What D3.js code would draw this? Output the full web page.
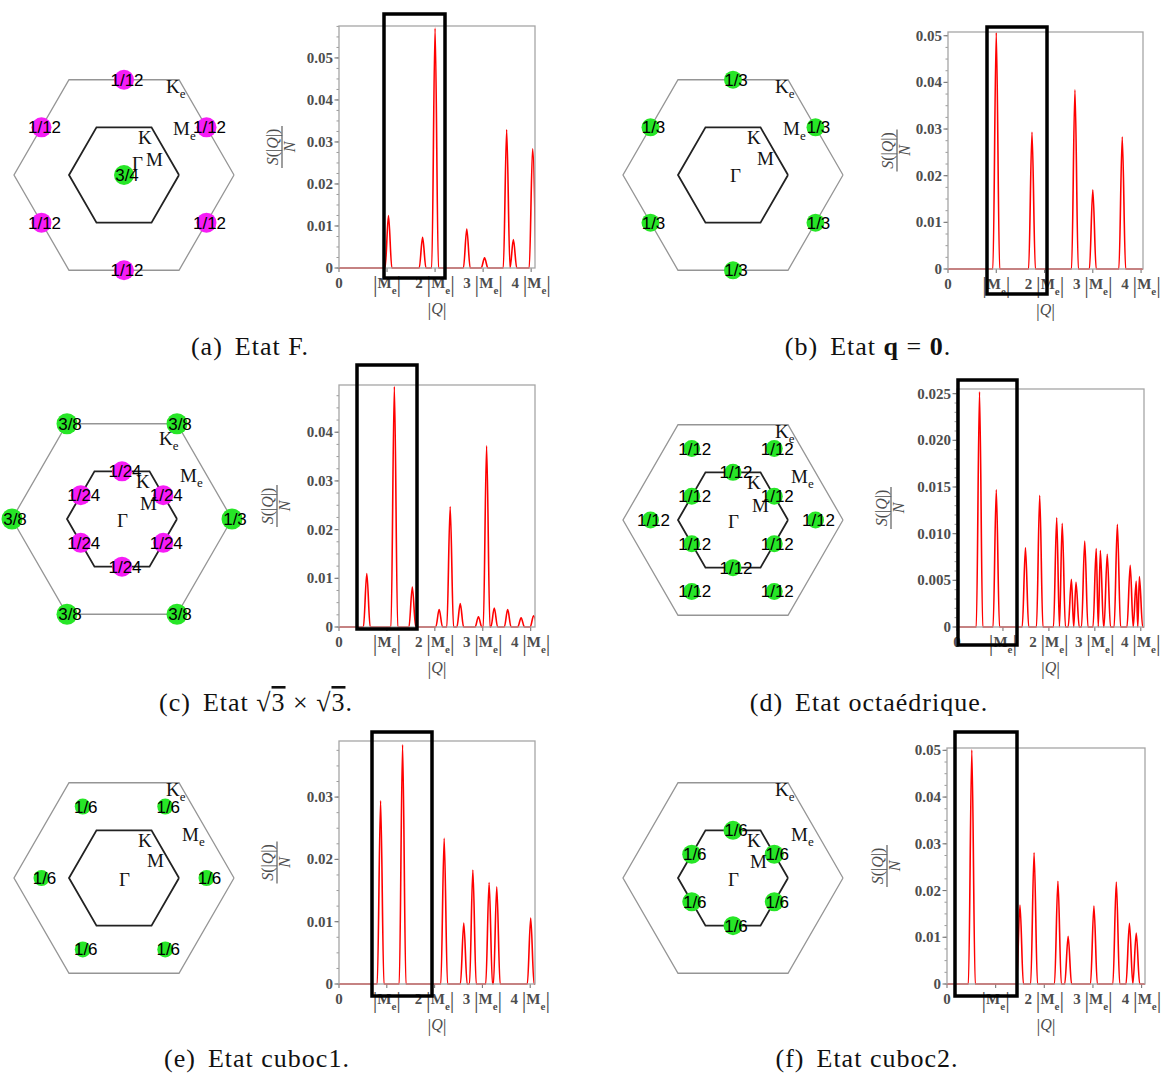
<!DOCTYPE html>
<html><head><meta charset="utf-8">
<script src="https://cdn.jsdelivr.net/npm/d3@7"></script>
<style>body{margin:0;background:#fff}svg{display:block}</style>
</head><body>
<svg id="fig" width="1161" height="1077"></svg>
<script>
// ---------------- DATA ----------------
// x tick values in units of |M_e|, and their labels
const xTickValues = [0, 1, 2, 3, 4];
const xTickLabels = ["0", "|Me|", "2|Me|", "3|Me|", "4|Me|"];

// y ticks of each plot
const yTicksF      = [0, 0.01, 0.02, 0.03, 0.04, 0.05];
const yTicksQ0     = [0, 0.01, 0.02, 0.03, 0.04, 0.05];
const yTicksR3     = [0, 0.01, 0.02, 0.03, 0.04];
const yTicksOcta   = [0, 0.005, 0.010, 0.015, 0.020, 0.025];
const yTicksCuboc1 = [0, 0.01, 0.02, 0.03];
const yTicksCuboc2 = [0, 0.01, 0.02, 0.03, 0.04, 0.05];
const yLabelsOcta  = ["0", "0.005", "0.010", "0.015", "0.020", "0.025"];

// peaks of S(|Q|)/N : [ |Q| in units of |Me| , height ]
const peaksF      = [[1.03,0.0125],[1.74,0.0073],[2.00,0.0571],[2.66,0.0093],[3.03,0.0024],[3.49,0.0329],[3.63,0.0068],[4.03,0.0284]];
const peaksQ0     = [[1.00,0.0507],[1.74,0.0293],[2.63,0.0384],[3.00,0.0170],[3.61,0.0283]];
const peaksR3     = [[0.58,0.0110],[1.155,0.0494],[1.53,0.0082],[2.09,0.0036],[2.32,0.0247],[2.53,0.0048],[2.91,0.0021],[3.08,0.0372],[3.24,0.0039],[3.52,0.0036],[3.80,0.0019],[4.06,0.0023]];
const peaksOcta   = [[0.49,0.0252],[0.855,0.0147],[1.49,0.0085],[1.80,0.0141],[2.17,0.0117],[2.29,0.0111],[2.49,0.0051],[2.59,0.0048],[2.78,0.0092],[3.03,0.0084],[3.12,0.0082],[3.27,0.0078],[3.49,0.0110],[3.77,0.0066],[3.90,0.0049],[3.97,0.0054]];
const peaksCuboc1 = [[0.87,0.0294],[1.33,0.0384],[2.20,0.0234],[2.61,0.0098],[2.80,0.0183],[3.14,0.0163],[3.30,0.0156],[4.01,0.0106]];
const peaksCuboc2 = [[0.51,0.0501],[1.50,0.0169],[1.79,0.0281],[2.28,0.0220],[2.49,0.0102],[3.02,0.0167],[3.48,0.0218],[3.75,0.0130],[3.89,0.0109]];

// Bragg weights in the Brillouin zones: [point type, angles (deg), weight label, colour key]
const dotsF      = [["Me",[30,90,150,210,270,330],"1/12","m"],["G",[0],"3/4","g"]];
const dotsQ0     = [["Me",[30,90,150,210,270,330],"1/3","g"]];
const dotsR3     = [["Ke",[60,120,180,240,300],"3/8","g"],["Ke",[0],"1/3","g"],["M",[30,90,150,210,270,330],"1/24","m"]];
const dotsOcta   = [["M",[30,90,150,210,270,330],"1/12","g"],["H",[0,60,120,180,240,300],"1/12","g"]];
const dotsCuboc1 = [["H",[0,60,120,180,240,300],"1/6","g"]];
const dotsCuboc2 = [["M",[30,90,150,210,270,330],"1/6","g"]];

const captionTags  = ["(a)", "(b)", "(c)", "(d)", "(e)", "(f)"];
const captionTexts = ["Etat F.", "Etat q = 0.", "Etat √3 × √3.", "Etat octaédrique.", "Etat cuboc1.", "Etat cuboc2."];

// ---------------- LAYOUT ----------------
const radii = {G:0, Me:Math.sqrt(3)/2, Ke:1, M:Math.sqrt(3)/4, K:0.5, H:0.75};
const colors = {m:"#f61cf6", g:"#27e627"};
const panels = [
  {peaks:peaksF, yt:yTicksF, dots:dotsF, hex:[124,175], box:{l:339,r:535,t:26,b:268}, xmax:4.08, ymax:0.0576, ylab:-57, rect:[384,14,445,278], cap:[250,355], dr:{m:10,g:10},
   lab:{Me:[49,-40], M:[22,-9], G:[8,-5]}},
  {peaks:peaksQ0, yt:yTicksQ0, dots:dotsQ0, hex:[733,175], box:{l:948,r:1143,t:32,b:269}, xmax:4.04, ymax:0.0508, ylab:-51, rect:[987,27,1047,294], cap:[868,355], dr:{g:9},
   lab:{Me:[50,-40], M:[24,-10], G:[-3,7]}},
  {peaks:peaksR3, yt:yTicksR3, dots:dotsR3, hex:[122,519], box:{l:339,r:535,t:385,b:627}, xmax:4.09, ymax:0.0497, ylab:-62, rect:[357,365,417,629], cap:[256,711], dr:{m:10,g:10.5},
   lab:{Ke:[37,-74], M:[18,-9]}},
  {peaks:peaksOcta, yt:yTicksOcta, ytl:yLabelsOcta, dots:dotsOcta, hex:[733,520], box:{l:957,r:1144,t:389,b:627}, xmax:4.07, ymax:0.0255, ylab:-66, rect:[958,380,1017,645], cap:[869,711], dr:{g:8.5},
   lab:{M:[19,-8]}},
  {peaks:peaksCuboc1, yt:yTicksCuboc1, dots:dotsCuboc1, hex:[124,878], box:{l:339,r:535,t:741,b:984}, xmax:4.10, ymax:0.039, ylab:-62, rect:[372,732,432,996], cap:[257,1067], dr:{g:8},
   lab:{M:[23,-11]}},
  {peaks:peaksCuboc2, yt:yTicksCuboc2, dots:dotsCuboc2, hex:[733,878], box:{l:947,r:1145,t:748,b:984}, xmax:4.07, ymax:0.0505, ylab:-60, rect:[955,732,1017,996], cap:[867,1067], dr:{g:9.5},
   lab:{M:[17,-10]}}
];
const labDefault = {Ke:[42,-82], Me:[58,-37], K:[14,-31], M:[22,-10], G:[-5,8]};
const R = 110;

const svg = d3.select("#fig");
const serif = "'Liberation Serif','Times New Roman',serif";
const sans = "'Liberation Sans',Arial,sans-serif";

panels.forEach((p, pi) => {
  // ---------- Brillouin zone diagram ----------
  const [cx, cy] = p.hex;
  const hx = d3.scaleLinear().domain([-1,1]).range([cx-R, cx+R]);
  const hy = d3.scaleLinear().domain([-1,1]).range([cy+R, cy-R]);
  const g = svg.append("g");
  const hexPts = s => d3.range(7).map(i => [hx(s*Math.cos(i*Math.PI/3)), hy(s*Math.sin(i*Math.PI/3))]);
  g.append("path").attr("d", d3.line()(hexPts(1))).attr("fill","none").attr("stroke","#959595").attr("stroke-width",1.3);
  g.append("path").attr("d", d3.line()(hexPts(0.5))).attr("fill","none").attr("stroke","#222").attr("stroke-width",1.8);

  const dotList = [];
  p.dots.forEach(([type, angles, w, c]) => angles.forEach(a => {
    const r = radii[type], t = a*Math.PI/180;
    dotList.push({x:hx(r*Math.cos(t)), y:hy(r*Math.sin(t)), w, c});
  }));
  g.selectAll("circle.d").data(dotList).join("circle")
    .attr("cx", d => d.x).attr("cy", d => d.y).attr("r", d => p.dr[d.c])
    .attr("fill", d => colors[d.c]);

  // symmetry point labels
  const lab = Object.assign({}, labDefault, p.lab);
  const addLab = (key, main, sub) => {
    const t = g.append("text").attr("x", cx + lab[key][0]).attr("y", cy + lab[key][1])
      .attr("font-family", serif).attr("font-size", 19).attr("fill","#111").text(main);
    if (sub) t.append("tspan").attr("font-size", 13).attr("dy", 5).text(sub);
  };
  addLab("Ke","K","e"); addLab("Me","M","e"); addLab("K","K"); addLab("M","M"); addLab("G","Γ");

  g.selectAll("text.w").data(dotList).join("text")
    .attr("x", d => d.x + 3).attr("y", d => d.y + 6)
    .attr("text-anchor","middle").attr("font-family", sans).attr("font-size", 17).attr("fill","#000")
    .text(d => d.w);

  // ---------- S(|Q|)/N plot ----------
  const b = p.box;
  const x = d3.scaleLinear().domain([0, p.xmax]).range([b.l, b.r]);
  const y = d3.scaleLinear().domain([0, p.ymax]).range([b.b, b.t]);
  const clipId = "clip" + pi;
  svg.append("clipPath").attr("id", clipId).append("rect")
    .attr("x", b.l).attr("y", b.t - 2).attr("width", b.r - b.l).attr("height", b.b - b.t + 4);

  // minor + major ticks on left axis
  const step = p.yt[1] - p.yt[0];
  const minorStep = step < 0.009 ? step/5 : step/4;
  const minor = d3.range(0, p.ymax + 1e-9, minorStep);
  svg.append("g").selectAll("line").data(minor).join("line")
    .attr("x1", b.l - 2.5).attr("x2", b.l).attr("y1", d => y(d)).attr("y2", d => y(d))
    .attr("stroke","#9a9a9a").attr("stroke-width",1);
  svg.append("g").selectAll("line").data(p.yt).join("line")
    .attr("x1", b.l - 4.5).attr("x2", b.l).attr("y1", d => y(d)).attr("y2", d => y(d))
    .attr("stroke","#777").attr("stroke-width",1.1);

  // y tick labels
  svg.append("g").selectAll("text").data(p.yt).join("text")
    .attr("x", b.l - 6).attr("y", d => y(d) + 5).attr("text-anchor","end")
    .attr("font-family", serif).attr("font-weight","bold").attr("font-size", 15).attr("fill","#4d4d4d")
    .text((d, i) => p.ytl ? p.ytl[i] : (d === 0 ? "0" : d3.format(".2f")(d)));

  // x tick marks
  svg.append("g").selectAll("line").data(xTickValues).join("line")
    .attr("x1", d => x(d)).attr("x2", d => x(d)).attr("y1", b.b).attr("y2", b.b + 4)
    .attr("stroke","#777").attr("stroke-width",1.1);

  // x tick labels
  xTickValues.forEach((v, i) => {
    const lbl = xTickLabels[i];
    const t = svg.append("text").attr("x", x(v)).attr("y", b.b + 20).attr("text-anchor","middle")
      .attr("font-family", serif).attr("font-weight","bold").attr("font-size", 15).attr("fill","#4d4d4d");
    if (lbl.indexOf("|") < 0) { t.text(lbl); return; }
    const pre = lbl.slice(0, lbl.indexOf("|"));
    if (pre) t.append("tspan").text(pre + " ");
    t.append("tspan").attr("font-size", 23).attr("font-weight","normal").attr("dy", 4).text("|");
    t.append("tspan").attr("dy", -4).text("M");
    t.append("tspan").attr("font-size", 11).attr("dy", 6).text("e");
    t.append("tspan").attr("font-size", 23).attr("font-weight","normal").attr("dy", -2).text("|");
  });

  // x axis title |Q|
  svg.append("text").attr("x", (b.l + b.r)/2).attr("y", b.b + 46).attr("text-anchor","middle")
    .attr("font-family", serif).attr("font-size", 16).attr("fill","#4d4d4d")
    .html('<tspan font-size="19" dy="2">|</tspan><tspan font-style="italic" dy="-2">Q</tspan><tspan font-size="19" dy="2">|</tspan>');

  // y axis title  S(|Q|)/N  (rotated fraction)
  const yl = svg.append("g").attr("transform", `translate(${b.l + p.ylab},${(b.t + b.b)/2}) rotate(-90)`);
  yl.append("text").attr("x", 0).attr("y", -4).attr("text-anchor","middle")
    .attr("font-family", serif).attr("font-size", 16).attr("fill","#4d4d4d")
    .html('<tspan font-style="italic">S</tspan>(|<tspan font-style="italic">Q</tspan>|)');
  yl.append("line").attr("x1", -21).attr("x2", 21).attr("y1", 0).attr("y2", 0).attr("stroke","#4d4d4d").attr("stroke-width",1.1);
  yl.append("text").attr("x", 0).attr("y", 13).attr("text-anchor","middle")
    .attr("font-family", serif).attr("font-style","italic").attr("font-size", 16).attr("fill","#4d4d4d").text("N");

  // the curve: narrow peaks on a zero baseline
  const w = 0.07;
  const pk = p.peaks.slice().sort((a, c) => a[0] - c[0]);
  const pts = [[0, 0]];
  pk.forEach((q, i) => {
    const prev = i > 0 ? pk[i-1][0] : -1, next = i < pk.length - 1 ? pk[i+1][0] : 99;
    const wl = Math.min(w, (q[0] - prev)/2), wr = Math.min(w, (next - q[0])/2);
    if (pts[pts.length-1][0] < q[0] - wl - 1e-6) pts.push([q[0] - wl, 0]);
    pts.push([q[0], q[1]]);
    pts.push([q[0] + wr, 0]);
  });
  if (pts[pts.length-1][0] < p.xmax) pts.push([p.xmax + 0.05, 0]);
  svg.append("path").attr("clip-path", `url(#${clipId})`)
    .attr("d", d3.line().x(d => x(d[0])).y(d => y(d[1])).curve(d3.curveMonotoneX)(pts))
    .attr("fill","none").attr("stroke","#ff0000").attr("stroke-width",1.6).attr("stroke-linejoin","round");

  // frame
  svg.append("rect").attr("x", b.l).attr("y", b.t).attr("width", b.r - b.l).attr("height", b.b - b.t)
    .attr("fill","none").attr("stroke","#a6a6a6").attr("stroke-width",1.3);

  // highlight rectangle
  const [rx0, ry0, rx1, ry1] = p.rect;
  svg.append("rect").attr("x", rx0).attr("y", ry0).attr("width", rx1 - rx0).attr("height", ry1 - ry0)
    .attr("fill","none").attr("stroke","#000").attr("stroke-width",3.5);

  // caption
  const ct = svg.append("text").attr("x", p.cap[0]).attr("y", p.cap[1]).attr("text-anchor","middle")
    .attr("font-family", serif).attr("font-size", 26).attr("fill","#111").attr("letter-spacing", 1);
  ct.append("tspan").text(captionTags[pi]);
  const txt = captionTexts[pi];
  if (pi === 1) {
    ct.append("tspan").attr("dx", 12).text("Etat ");
    ct.append("tspan").attr("font-weight","bold").text("q");
    ct.append("tspan").text(" = ");
    ct.append("tspan").attr("font-weight","bold").text("0");
    ct.append("tspan").text(".");
  } else if (pi === 2) {
    ct.append("tspan").attr("dx", 12).text("Etat √");
    ct.append("tspan").style("text-decoration","overline").text("3");
    ct.append("tspan").text(" × √");
    ct.append("tspan").style("text-decoration","overline").text("3");
    ct.append("tspan").text(".");
  } else {
    ct.append("tspan").attr("dx", 12).text(txt);
  }
});
</script>
</body></html>
